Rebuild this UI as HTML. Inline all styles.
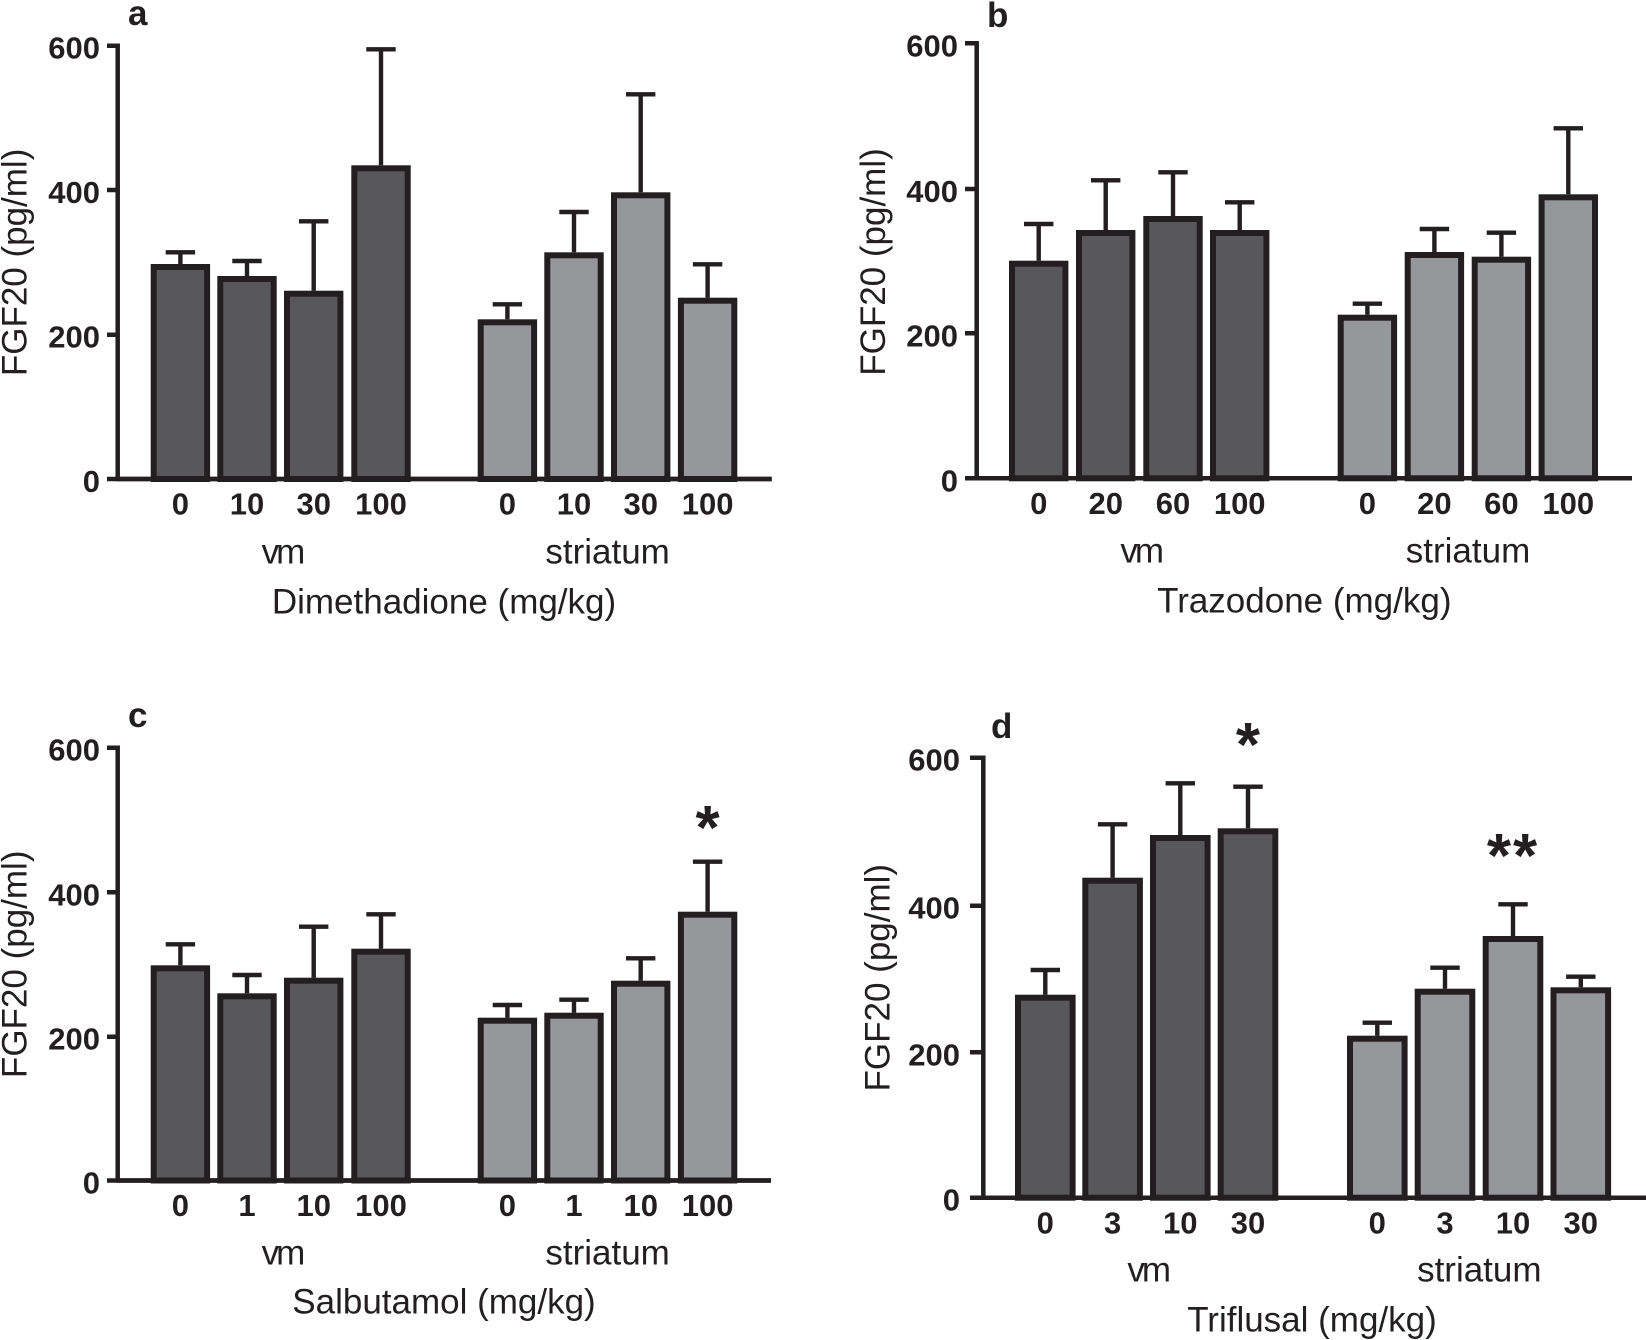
<!DOCTYPE html>
<html><head><meta charset="utf-8"><style>
html,body{margin:0;padding:0;background:#fff;}
svg{display:block;}
text{font-family:"Liberation Sans",Arial,sans-serif;fill:#231f20;}
.t{font-size:31px;font-weight:bold;}
.g{font-size:35px;}
.p{font-size:35px;font-weight:bold;}
.s{font-size:62px;font-weight:bold;}
.d{fill:#58585a;stroke:#231f20;stroke-width:6;}
.l{fill:#96979b;stroke:#231f20;stroke-width:6;}
.e{stroke:#231f20;stroke-width:4.4;fill:none;}
.ax{stroke:#231f20;stroke-width:4.5;fill:none;}
</style></head><body>
<svg width="1646" height="1340" viewBox="0 0 1646 1340" xmlns="http://www.w3.org/2000/svg">
<!-- Panel a -->
<g>
<text class="p" x="128" y="25">a</text>
<path class="ax" d="M117.7 43.5V481M115.5 479H771.7M107 45.7H117.7M107 190H117.7M107 334.7H117.7M107 479H117.7"/>
<text class="t" text-anchor="end" x="100" y="58.7">600</text>
<text class="t" text-anchor="end" x="100" y="203">400</text>
<text class="t" text-anchor="end" x="100" y="347.7">200</text>
<text class="t" text-anchor="end" x="100" y="492">0</text>
<text class="g" text-anchor="middle" transform="translate(26.7,262.4) rotate(-90)">FGF20 (pg/ml)</text>
<path class="e" d="M180.4 264V252.3M165.7 252.3H195.1M247 276V261M232.3 261H261.7M313.7 290.7V221.3M299 221.3H328.4M381 165.3V49.3M366.3 49.3H395.7"/>
<path class="e" d="M507.4 319.3V304.3M492.7 304.3H522.1M574 252.3V212M559.3 212H588.7M640.7 192.3V94.3M626 94.3H655.4M707.6 297.7V264.3M692.9 264.3H722.3"/>
<rect class="d" x="153.7" y="267" width="53.4" height="212"/>
<rect class="d" x="220.3" y="279" width="53.4" height="200"/>
<rect class="d" x="287" y="293.7" width="53.4" height="185.3"/>
<rect class="d" x="354.3" y="168.3" width="53.4" height="310.7"/>
<rect class="l" x="480.7" y="322.3" width="53.4" height="156.7"/>
<rect class="l" x="547.3" y="255.3" width="53.4" height="223.7"/>
<rect class="l" x="614" y="195.3" width="53.4" height="283.7"/>
<rect class="l" x="680.9" y="300.7" width="53.4" height="178.3"/>
<path class="ax" d="M115.5 479H771.7"/>
<text class="t" text-anchor="middle" x="180.4" y="514.5">0</text><text class="t" text-anchor="middle" x="247" y="514.5">10</text><text class="t" text-anchor="middle" x="313.7" y="514.5">30</text><text class="t" text-anchor="middle" x="381" y="514.5">100</text>
<text class="t" text-anchor="middle" x="507.4" y="514.5">0</text><text class="t" text-anchor="middle" x="574" y="514.5">10</text><text class="t" text-anchor="middle" x="640.7" y="514.5">30</text><text class="t" text-anchor="middle" x="707.6" y="514.5">100</text>
<text class="g" text-anchor="middle" x="282" y="563.3" letter-spacing="-3">vm</text>
<text class="g" text-anchor="middle" x="607.6" y="563.3">striatum</text>
<text class="g" text-anchor="middle" x="444" y="613.3">Dimethadione (mg/kg)</text>
</g>

<!-- Panel b -->
<g>
<text class="p" x="987" y="27">b</text>
<path class="ax" d="M976.7 41V480.5M974.5 478.3H1632M965 43.3H976.7M965 189H976.7M965 333.3H976.7M965 478.3H976.7"/>
<text class="t" text-anchor="end" x="958" y="56.3">600</text>
<text class="t" text-anchor="end" x="958" y="202">400</text>
<text class="t" text-anchor="end" x="958" y="346.3">200</text>
<text class="t" text-anchor="end" x="958" y="491.3">0</text>
<text class="g" text-anchor="middle" transform="translate(885,262) rotate(-90)">FGF20 (pg/ml)</text>
<path class="e" d="M1038.7 260.7V224M1024 224H1053.4M1105.7 230V180.3M1091 180.3H1120.4M1173 216V172.3M1158.3 172.3H1187.7M1239.7 230V202.3M1225 202.3H1254.4"/>
<path class="e" d="M1367.4 314.7V303.7M1352.7 303.7H1382.1M1434.4 252V229M1419.7 229H1449.1M1501.4 256.7V232.7M1486.7 232.7H1516.1M1568.3 194.3V128.3M1553.6 128.3H1583"/>
<rect class="d" x="1012" y="263.7" width="53.4" height="214.6"/>
<rect class="d" x="1079" y="233" width="53.4" height="245.3"/>
<rect class="d" x="1146.3" y="219" width="53.4" height="259.3"/>
<rect class="d" x="1213" y="233" width="53.4" height="245.3"/>
<rect class="l" x="1340.7" y="317.7" width="53.4" height="160.6"/>
<rect class="l" x="1407.7" y="255" width="53.4" height="223.3"/>
<rect class="l" x="1474.7" y="259.7" width="53.4" height="218.6"/>
<rect class="l" x="1541.6" y="197.3" width="53.4" height="281"/>
<path class="ax" d="M974.5 478.3H1632"/>
<text class="t" text-anchor="middle" x="1038.7" y="513.8">0</text><text class="t" text-anchor="middle" x="1105.7" y="513.8">20</text><text class="t" text-anchor="middle" x="1173" y="513.8">60</text><text class="t" text-anchor="middle" x="1239.7" y="513.8">100</text>
<text class="t" text-anchor="middle" x="1367.4" y="513.8">0</text><text class="t" text-anchor="middle" x="1434.4" y="513.8">20</text><text class="t" text-anchor="middle" x="1501.4" y="513.8">60</text><text class="t" text-anchor="middle" x="1568.3" y="513.8">100</text>
<text class="g" text-anchor="middle" x="1140.7" y="562.7" letter-spacing="-3">vm</text>
<text class="g" text-anchor="middle" x="1468" y="562.7">striatum</text>
<text class="g" text-anchor="middle" x="1304.3" y="612.5">Trazodone (mg/kg)</text>
</g>

<!-- Panel c -->
<g>
<text class="p" x="128" y="727">c</text>
<path class="ax" d="M117.7 745.5V1182.5M115.5 1180.5H771M107 747.7H117.7M107 892.3H117.7M107 1036.7H117.7M107 1180.5H117.7"/>
<text class="t" text-anchor="end" x="100" y="760.7">600</text>
<text class="t" text-anchor="end" x="100" y="905.3">400</text>
<text class="t" text-anchor="end" x="100" y="1049.7">200</text>
<text class="t" text-anchor="end" x="100" y="1193.5">0</text>
<text class="g" text-anchor="middle" transform="translate(26.7,964.3) rotate(-90)">FGF20 (pg/ml)</text>
<path class="e" d="M180.4 965.3V944.3M165.7 944.3H195.1M247 993.3V975M232.3 975H261.7M313.7 977.7V926.7M299 926.7H328.4M381 948.7V914.3M366.3 914.3H395.7"/>
<path class="e" d="M507.4 1017.7V1005M492.7 1005H522.1M574 1012.7V999.7M559.3 999.7H588.7M640.7 980.7V958.3M626 958.3H655.4M707.6 911.7V861.7M692.9 861.7H722.3"/>
<rect class="d" x="153.7" y="968.3" width="53.4" height="212.2"/>
<rect class="d" x="220.3" y="996.3" width="53.4" height="184.2"/>
<rect class="d" x="287" y="980.7" width="53.4" height="199.8"/>
<rect class="d" x="354.3" y="951.7" width="53.4" height="228.8"/>
<rect class="l" x="480.7" y="1020.7" width="53.4" height="159.8"/>
<rect class="l" x="547.3" y="1015.7" width="53.4" height="164.8"/>
<rect class="l" x="614" y="983.7" width="53.4" height="196.8"/>
<rect class="l" x="680.9" y="914.7" width="53.4" height="265.8"/>
<path class="ax" d="M115.5 1180.5H771"/>
<text class="s" text-anchor="middle" x="707.6" y="849">*</text>
<text class="t" text-anchor="middle" x="180.4" y="1216">0</text><text class="t" text-anchor="middle" x="247" y="1216">1</text><text class="t" text-anchor="middle" x="313.7" y="1216">10</text><text class="t" text-anchor="middle" x="381" y="1216">100</text>
<text class="t" text-anchor="middle" x="507.4" y="1216">0</text><text class="t" text-anchor="middle" x="574" y="1216">1</text><text class="t" text-anchor="middle" x="640.7" y="1216">10</text><text class="t" text-anchor="middle" x="707.6" y="1216">100</text>
<text class="g" text-anchor="middle" x="282" y="1264.3" letter-spacing="-3">vm</text>
<text class="g" text-anchor="middle" x="607.6" y="1264.3">striatum</text>
<text class="g" text-anchor="middle" x="444" y="1313.3">Salbutamol (mg/kg)</text>
</g>

<!-- Panel d -->
<g>
<text class="p" x="991" y="738">d</text>
<path class="ax" d="M983.3 755.5V1200M981 1197.7H1646M970 757.7H983.3M970 905.7H983.3M970 1052.3H983.3M970 1197.7H983.3"/>
<text class="t" text-anchor="end" x="960" y="770.7">600</text>
<text class="t" text-anchor="end" x="960" y="918.7">400</text>
<text class="t" text-anchor="end" x="960" y="1065.3">200</text>
<text class="t" text-anchor="end" x="960" y="1210.7">0</text>
<text class="g" text-anchor="middle" transform="translate(889.3,977.7) rotate(-90)">FGF20 (pg/ml)</text>
<path class="e" d="M1045.3 994.7V970M1030.6 970H1060M1112.6 877.7V824.3M1097.9 824.3H1127.3M1180.3 835V783.3M1165.6 783.3H1195M1248 828.3V786.7M1233.3 786.7H1262.7"/>
<path class="e" d="M1377.3 1035.7V1022.7M1362.6 1022.7H1392M1445 988.7V967.7M1430.3 967.7H1459.7M1513 936V904.3M1498.3 904.3H1527.7M1580.8 987.3V976.7M1566.1 976.7H1595.5"/>
<rect class="d" x="1018" y="997.7" width="54.6" height="200"/>
<rect class="d" x="1085.3" y="880.7" width="54.6" height="317"/>
<rect class="d" x="1153" y="838" width="54.6" height="359.7"/>
<rect class="d" x="1220.7" y="831.3" width="54.6" height="366.4"/>
<rect class="l" x="1350" y="1038.7" width="54.6" height="159"/>
<rect class="l" x="1417.7" y="991.7" width="54.6" height="206"/>
<rect class="l" x="1485.7" y="939" width="54.6" height="258.7"/>
<rect class="l" x="1553.5" y="990.3" width="54.6" height="207.4"/>
<path class="ax" d="M981 1197.7H1646"/>
<text class="s" text-anchor="middle" x="1248" y="766">*</text>
<text class="s" text-anchor="middle" x="1513" y="877" letter-spacing="2">**</text>
<text class="t" text-anchor="middle" x="1045.3" y="1233.3">0</text><text class="t" text-anchor="middle" x="1112.6" y="1233.3">3</text><text class="t" text-anchor="middle" x="1180.3" y="1233.3">10</text><text class="t" text-anchor="middle" x="1248" y="1233.3">30</text>
<text class="t" text-anchor="middle" x="1377.3" y="1233.3">0</text><text class="t" text-anchor="middle" x="1445" y="1233.3">3</text><text class="t" text-anchor="middle" x="1513" y="1233.3">10</text><text class="t" text-anchor="middle" x="1580.8" y="1233.3">30</text>
<text class="g" text-anchor="middle" x="1147.7" y="1281.7" letter-spacing="-3">vm</text>
<text class="g" text-anchor="middle" x="1479.3" y="1281.7">striatum</text>
<text class="g" text-anchor="middle" x="1312" y="1331.7">Triflusal (mg/kg)</text>
</g>
</svg>
</body></html>
